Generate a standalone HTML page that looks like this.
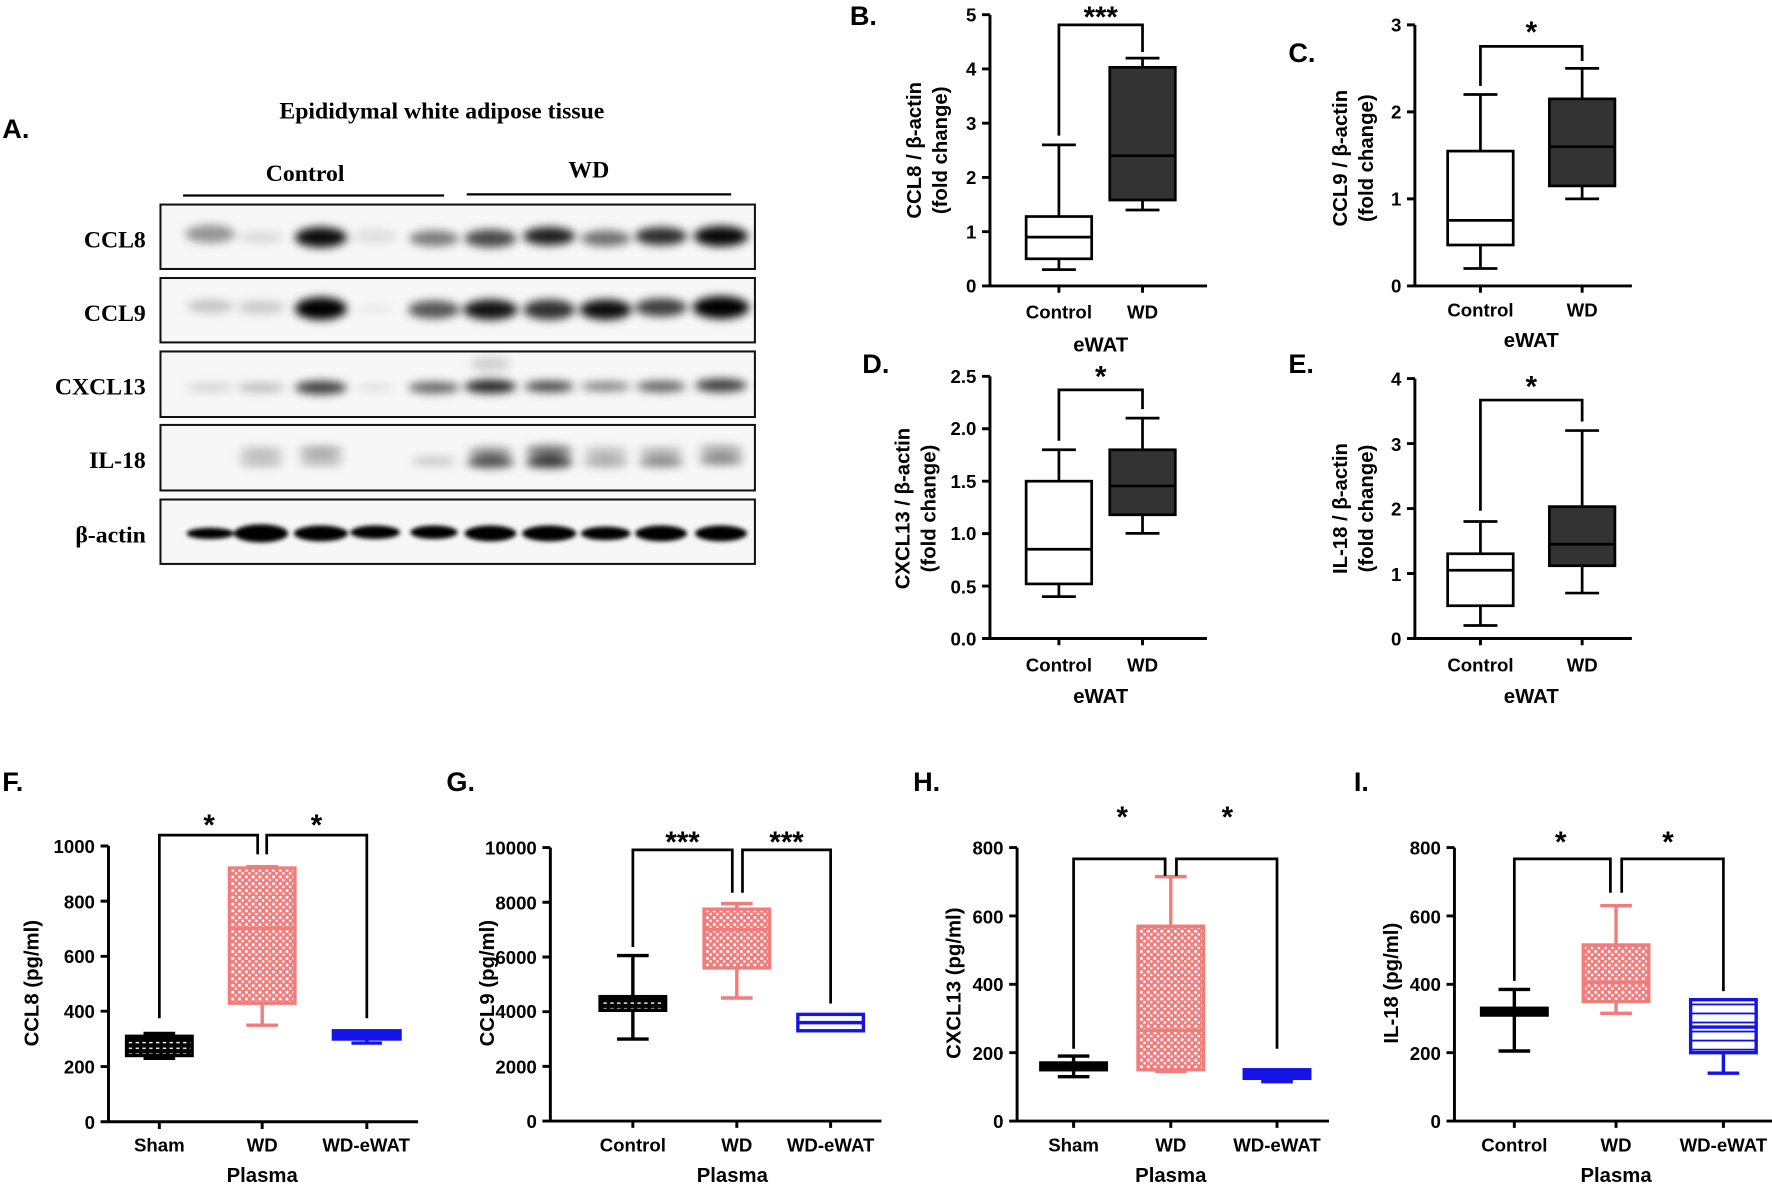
<!DOCTYPE html>
<html><head><meta charset="utf-8"><style>
html,body{margin:0;padding:0;background:#fff;}
svg{display:block;}
text{font-family:"Liberation Sans",Arial,sans-serif;font-weight:bold;fill:#000;}
.s{font-family:"Liberation Serif",serif;font-weight:bold;}
.ax{stroke:#000;stroke-width:2.6;fill:none;}
.bk{stroke:#000;stroke-width:2.4;fill:none;}
.tl{font-size:16.5px;text-anchor:end;}
.cl{font-size:16.5px;text-anchor:middle;}
.at{font-size:18px;text-anchor:middle;}
.pl{font-size:24px;}
.st{font-size:26px;text-anchor:middle;}
</style></head><body>
<svg width="1772" height="1190" viewBox="0 0 1568 1053" xmlns="http://www.w3.org/2000/svg">
<defs>
<filter id="bl" x="-50%" y="-100%" width="200%" height="300%"><feGaussianBlur stdDeviation="4"/></filter>
<filter id="bl2" x="-50%" y="-100%" width="200%" height="300%"><feGaussianBlur stdDeviation="2"/></filter>
<pattern id="chk" width="6" height="6" patternUnits="userSpaceOnUse"><rect width="6" height="6" fill="#f07c7c"/><rect x="0.8" y="0.8" width="2.4" height="2.4" fill="#fff"/><rect x="3.8" y="3.8" width="2" height="2" fill="#fff"/></pattern>
<pattern id="blk" width="6" height="5" patternUnits="userSpaceOnUse"><rect width="6" height="5" fill="#000"/><rect x="0" y="2" width="3" height="1.2" fill="#fff"/></pattern>
<pattern id="hl" width="6" height="8" patternUnits="userSpaceOnUse"><rect width="6" height="8" fill="#fff"/><rect y="0" width="6" height="1.6" fill="#1010e0"/></pattern>
</defs>
<rect width="1568" height="1053" fill="#fff"/>

<!-- Panel A -->
<text x="2" y="122" class="pl">A.</text>
<text x="391" y="105" class="s" font-size="21" text-anchor="middle">Epididymal white adipose tissue</text>
<text x="270" y="160" class="s" font-size="21" text-anchor="middle">Control</text>
<text x="521" y="157" class="s" font-size="21" text-anchor="middle">WD</text>
<line x1="162" y1="173" x2="393" y2="173" stroke="#000" stroke-width="2"/>
<line x1="413" y1="172" x2="647" y2="172" stroke="#000" stroke-width="2"/>
<g class="s" font-size="21" text-anchor="end">
<text x="129" y="219" class="s">CCL8</text>
<text x="129" y="284" class="s">CCL9</text>
<text x="129" y="349" class="s">CXCL13</text>
<text x="129" y="414" class="s">IL-18</text>
<text x="129" y="480" class="s">β-actin</text>
</g>
<g fill="#f7f7f7" stroke="#111" stroke-width="1.8">
<rect x="142" y="181" width="526" height="57"/>
<rect x="142" y="246" width="526" height="57"/>
<rect x="142" y="311" width="526" height="58"/>
<rect x="142" y="376" width="526" height="58"/>
<rect x="142" y="442" width="526" height="57"/>
</g>
<g filter="url(#bl)" fill="#000">
<ellipse cx="186" cy="207" rx="22" ry="8" opacity=".4"/>
<ellipse cx="231" cy="210" rx="20" ry="5" opacity=".12"/>
<ellipse cx="284" cy="210" rx="23" ry="9" opacity=".95"/>
<ellipse cx="332" cy="209" rx="20" ry="6" opacity=".1"/>
<ellipse cx="384" cy="211" rx="22" ry="7" opacity=".5"/>
<ellipse cx="434" cy="211" rx="23" ry="8" opacity=".7"/>
<ellipse cx="486" cy="209" rx="23" ry="8" opacity=".88"/>
<ellipse cx="536" cy="211" rx="22" ry="7" opacity=".55"/>
<ellipse cx="585" cy="209" rx="23" ry="8" opacity=".82"/>
<ellipse cx="638" cy="209" rx="24" ry="9" opacity=".97"/>
<ellipse cx="186" cy="271" rx="21" ry="6" opacity=".2"/>
<ellipse cx="231" cy="272" rx="21" ry="6" opacity=".18"/>
<ellipse cx="284" cy="273" rx="23" ry="10" opacity="1"/>
<ellipse cx="332" cy="273" rx="18" ry="4" opacity=".05"/>
<ellipse cx="384" cy="274" rx="23" ry="8" opacity=".65"/>
<ellipse cx="434" cy="274" rx="24" ry="9" opacity=".92"/>
<ellipse cx="486" cy="274" rx="23" ry="9" opacity=".8"/>
<ellipse cx="536" cy="274" rx="23" ry="9" opacity=".95"/>
<ellipse cx="585" cy="272" rx="23" ry="8" opacity=".75"/>
<ellipse cx="638" cy="272" rx="25" ry="10" opacity="1"/>
<ellipse cx="186" cy="343" rx="21" ry="4" opacity=".15"/>
<ellipse cx="231" cy="343" rx="21" ry="4" opacity=".25"/>
<ellipse cx="284" cy="343" rx="23" ry="6" opacity=".75"/>
<ellipse cx="332" cy="343" rx="18" ry="3" opacity=".1"/>
<ellipse cx="384" cy="343" rx="23" ry="5" opacity=".6"/>
<ellipse cx="434" cy="342" rx="23" ry="6" opacity=".85"/>
<ellipse cx="486" cy="342" rx="22" ry="5" opacity=".7"/>
<ellipse cx="536" cy="342" rx="22" ry="4" opacity=".5"/>
<ellipse cx="585" cy="342" rx="22" ry="5" opacity=".6"/>
<ellipse cx="638" cy="341" rx="23" ry="6" opacity=".75"/>
<ellipse cx="434" cy="322" rx="18" ry="7" opacity=".15"/>
<ellipse cx="231" cy="400" rx="20" ry="4" opacity=".25"/>
<ellipse cx="231" cy="409" rx="20" ry="4" opacity=".25"/>
<ellipse cx="284" cy="399" rx="20" ry="4" opacity=".35"/>
<ellipse cx="284" cy="408" rx="20" ry="4" opacity=".28"/>
<ellipse cx="384" cy="408" rx="20" ry="4" opacity=".2"/>
<ellipse cx="434" cy="400" rx="20" ry="4" opacity=".45"/>
<ellipse cx="434" cy="409" rx="21" ry="5" opacity=".7"/>
<ellipse cx="486" cy="399" rx="21" ry="5" opacity=".55"/>
<ellipse cx="486" cy="409" rx="21" ry="5" opacity=".8"/>
<ellipse cx="536" cy="400" rx="20" ry="4" opacity=".25"/>
<ellipse cx="536" cy="409" rx="20" ry="4" opacity=".35"/>
<ellipse cx="585" cy="400" rx="20" ry="4" opacity=".3"/>
<ellipse cx="585" cy="409" rx="20" ry="4" opacity=".5"/>
<ellipse cx="638" cy="398" rx="20" ry="4" opacity=".35"/>
<ellipse cx="638" cy="407" rx="20" ry="4" opacity=".5"/>
</g>
<g filter="url(#bl2)" fill="#000">
<ellipse cx="186" cy="472" rx="21" ry="5"/>
<ellipse cx="231" cy="472" rx="24" ry="8"/>
<ellipse cx="284" cy="472" rx="24" ry="7"/>
<ellipse cx="332" cy="471" rx="22" ry="6"/>
<ellipse cx="384" cy="471" rx="21" ry="6"/>
<ellipse cx="434" cy="472" rx="23" ry="7"/>
<ellipse cx="486" cy="472" rx="24" ry="7"/>
<ellipse cx="536" cy="472" rx="22" ry="6"/>
<ellipse cx="585" cy="472" rx="23" ry="7"/>
<ellipse cx="638" cy="472" rx="23" ry="7"/>
</g>

<!-- Panel B -->
<text x="752" y="22" class="pl">B.</text>
<path class="ax" d="M876 13V253H1068M869 13H876M869 61H876M869 109H876M869 157H876M869 205H876M869 253H876M937 253V259M1011 253V259"/>
<g class="tl"><text x="864" y="19">5</text><text x="864" y="67">4</text><text x="864" y="115">3</text><text x="864" y="163">2</text><text x="864" y="211">1</text><text x="864" y="259">0</text></g>
<text transform="translate(815,133) rotate(-90)" class="at" font-size="17">CCL8 / β-actin</text>
<text transform="translate(838,133) rotate(-90)" class="at" font-size="17">(fold change)</text>
<g class="bk"><path d="M937 238.6V229M937 191.6V128.2M922 238.6H952M922 128.2H952"/><rect x="908" y="191.6" width="58" height="37.4" fill="#fff"/><path d="M908 209.8H966"/></g>
<g class="bk"><path d="M1011 185.8V177M1011 59.6V51.4M996 185.8H1026M996 51.4H1026"/><rect x="982" y="59.6" width="58" height="117.4" fill="#333"/><path d="M982 137.8H1040"/></g>
<path class="bk" d="M937 120V22H1011V46"/>
<text x="974" y="24" class="st">***</text>
<text x="937" y="282" class="cl">Control</text><text x="1011" y="282" class="cl">WD</text>
<text x="974" y="311" class="at">eWAT</text>

<!-- Panel C -->
<text x="1140" y="55" class="pl">C.</text>
<path class="ax" d="M1252 22V253H1444M1245 22H1252M1245 99H1252M1245 176H1252M1245 253H1252M1310 253V259M1400 253V259"/>
<g class="tl"><text x="1240" y="28">3</text><text x="1240" y="105">2</text><text x="1240" y="182">1</text><text x="1240" y="259">0</text></g>
<text transform="translate(1192,140) rotate(-90)" class="at" font-size="17">CCL9 / β-actin</text>
<text transform="translate(1215,140) rotate(-90)" class="at" font-size="17">(fold change)</text>
<g class="bk"><path d="M1310 237.6V216.8M1310 133.7V83.6M1295 237.6H1325M1295 83.6H1325"/><rect x="1281" y="133.7" width="58" height="83.1" fill="#fff"/><path d="M1281 195H1339"/></g>
<g class="bk"><path d="M1400 176V164.5M1400 87.5V60.5M1385 176H1415M1385 60.5H1415"/><rect x="1371" y="87.5" width="58" height="77" fill="#333"/><path d="M1371 129.8H1429"/></g>
<path class="bk" d="M1310 76V41H1400V54"/>
<text x="1355" y="37" class="st">*</text>
<text x="1310" y="280" class="cl">Control</text><text x="1400" y="280" class="cl">WD</text>
<text x="1355" y="307" class="at">eWAT</text>

<!-- Panel D -->
<text x="763" y="330" class="pl">D.</text>
<path class="ax" d="M876 333V565H1068M869 333H876M869 379.4H876M869 425.8H876M869 472.2H876M869 518.6H876M869 565H876M937 565V571M1011 565V571"/>
<g class="tl"><text x="864" y="339">2.5</text><text x="864" y="385">2.0</text><text x="864" y="432">1.5</text><text x="864" y="478">1.0</text><text x="864" y="525">0.5</text><text x="864" y="571">0.0</text></g>
<text transform="translate(805,450) rotate(-90)" class="at" font-size="17">CXCL13 / β-actin</text>
<text transform="translate(828,450) rotate(-90)" class="at" font-size="17">(fold change)</text>
<g class="bk"><path d="M937 527.9V516.7M937 425.8V398M922 527.9H952M922 398H952"/><rect x="908" y="425.8" width="58" height="90.9" fill="#fff"/><path d="M908 486H966"/></g>
<g class="bk"><path d="M1011 472V455.5M1011 398V370M996 472H1026M996 370H1026"/><rect x="982" y="398" width="58" height="57.5" fill="#333"/><path d="M982 430H1040"/></g>
<path class="bk" d="M937 390V345H1011V362"/>
<text x="974" y="342" class="st">*</text>
<text x="937" y="594" class="cl">Control</text><text x="1011" y="594" class="cl">WD</text>
<text x="974" y="622" class="at">eWAT</text>

<!-- Panel E -->
<text x="1140" y="330" class="pl">E.</text>
<path class="ax" d="M1252 335V565H1444M1245 335H1252M1245 392.5H1252M1245 450H1252M1245 507.5H1252M1245 565H1252M1310 565V571M1400 565V571"/>
<g class="tl"><text x="1240" y="341">4</text><text x="1240" y="399">3</text><text x="1240" y="456">2</text><text x="1240" y="514">1</text><text x="1240" y="571">0</text></g>
<text transform="translate(1192,450) rotate(-90)" class="at" font-size="17">IL-18 / β-actin</text>
<text transform="translate(1215,450) rotate(-90)" class="at" font-size="17">(fold change)</text>
<g class="bk"><path d="M1310 553.5V536M1310 490V461.5M1295 553.5H1325M1295 461.5H1325"/><rect x="1281" y="490" width="58" height="46" fill="#fff"/><path d="M1281 504.6H1339"/></g>
<g class="bk"><path d="M1400 524.8V500.6M1400 448.3V381M1385 524.8H1415M1385 381H1415"/><rect x="1371" y="448.3" width="58" height="52.3" fill="#333"/><path d="M1371 481.6H1429"/></g>
<path class="bk" d="M1310 452V354H1400V373"/>
<text x="1355" y="351" class="st">*</text>
<text x="1310" y="594" class="cl">Control</text><text x="1400" y="594" class="cl">WD</text>
<text x="1355" y="622" class="at">eWAT</text>

<!-- Panel F -->
<text x="2" y="700" class="pl">F.</text>
<path class="ax" d="M96 748.6V992.6H370M89 748.6H96M89 797.4H96M89 846.2H96M89 894.8H96M89 943.8H96M89 992.6H96M141 992.6V999M232 992.6V999M324.6 992.6V999"/>
<g class="tl"><text x="84" y="755">1000</text><text x="84" y="804">800</text><text x="84" y="852">600</text><text x="84" y="901">400</text><text x="84" y="950">200</text><text x="84" y="999">0</text></g>
<text transform="translate(34,870) rotate(-90)" class="at">CCL8 (pg/ml)</text>
<g stroke="#000" stroke-width="3" fill="none"><path d="M141 936.5V934M141 917V914.5M127 936.5H155M127 914.5H155"/><rect x="112" y="917" width="58" height="17" fill="url(#blk)"/></g>
<g stroke="#f07c7c" stroke-width="3" fill="none"><path d="M232 907.2V887.7M232 768.1V766.9M218 907.2H246M218 766.9H246"/><rect x="203" y="768.1" width="58" height="119.6" fill="url(#chk)"/><path d="M203 821.8H261"/></g>
<g stroke="#1414e6" stroke-width="3" fill="none"><path d="M324.6 923V919.4M311 923H338"/><rect x="295" y="912.1" width="59" height="7.3" fill="#1414e6"/></g>
<path class="bk" d="M141 901V739H228V756M236 756V739H324.6V901"/>
<text x="185" y="739" class="st">*</text><text x="280" y="739" class="st">*</text>
<text x="141" y="1019" class="cl">Sham</text><text x="232" y="1019" class="cl">WD</text><text x="324" y="1019" class="cl">WD-eWAT</text>
<text x="232" y="1046" class="at">Plasma</text>

<!-- Panel G -->
<text x="395" y="700" class="pl">G.</text>
<path class="ax" d="M487 750V992H780M480 750H487M480 798.4H487M480 846.8H487M480 895.2H487M480 943.6H487M480 992H487M560 992V998M652 992V998M735 992V998"/>
<g class="tl"><text x="475" y="756">10000</text><text x="475" y="805">8000</text><text x="475" y="853">6000</text><text x="475" y="901">4000</text><text x="475" y="950">2000</text><text x="475" y="998">0</text></g>
<text transform="translate(437,870) rotate(-90)" class="at">CCL9 (pg/ml)</text>
<g stroke="#000" stroke-width="3" fill="none"><path d="M560 919.4V894M560 881.9V845.6M546 919.4H574M546 845.6H574"/><rect x="531" y="881.9" width="58" height="12.1" fill="url(#blk)"/></g>
<g stroke="#f07c7c" stroke-width="3" fill="none"><path d="M652 883.1V856.5M652 804.5V799.6M638 883.1H666M638 799.6H666"/><rect x="623" y="804.5" width="58" height="52" fill="url(#chk)"/><path d="M623 822.6H681"/></g>
<g stroke="#1414e6" stroke-width="3" fill="none"><rect x="706" y="897.6" width="58" height="14.5" fill="#fff"/><path d="M706 904.9H764"/></g>
<path class="bk" d="M560 838V752H648V790M657 790V752H735V888"/>
<text x="604" y="754" class="st">***</text><text x="696" y="754" class="st">***</text>
<text x="560" y="1019" class="cl">Control</text><text x="652" y="1019" class="cl">WD</text><text x="735" y="1019" class="cl">WD-eWAT</text>
<text x="648" y="1046" class="at">Plasma</text>

<!-- Panel H -->
<text x="808" y="700" class="pl">H.</text>
<path class="ax" d="M900 750V992H1176M893 750H900M893 810.5H900M893 871H900M893 931.5H900M893 992H900M950 992V998M1036 992V998M1130 992V998"/>
<g class="tl"><text x="888" y="756">800</text><text x="888" y="817">600</text><text x="888" y="877">400</text><text x="888" y="938">200</text><text x="888" y="998">0</text></g>
<text transform="translate(850,870) rotate(-90)" class="at">CXCL13 (pg/ml)</text>
<g stroke="#000" stroke-width="3" fill="none"><path d="M950 952.7V946.6M950 940.6V934.5M936 952.7H964M936 934.5H964"/><rect x="921" y="940.6" width="58" height="6" fill="#000"/></g>
<g stroke="#f07c7c" stroke-width="3" fill="none"><path d="M1036 948.1V946.6M1036 819.6V775.7M1022 948.1H1050M1022 775.7H1050"/><rect x="1007" y="819.6" width="58" height="127" fill="url(#chk)"/><path d="M1007 911.8H1065"/></g>
<g stroke="#1414e6" stroke-width="3" fill="none"><path d="M1130 957.2V954.2M1116 957.2H1144"/><rect x="1101" y="946.6" width="58" height="7.6" fill="#1414e6"/></g>
<path class="bk" d="M950 928V760H1031V775M1041 775V760H1130V928"/>
<text x="993" y="732" class="st">*</text><text x="1086" y="732" class="st">*</text>
<text x="950" y="1019" class="cl">Sham</text><text x="1036" y="1019" class="cl">WD</text><text x="1130" y="1019" class="cl">WD-eWAT</text>
<text x="1036" y="1046" class="at">Plasma</text>

<!-- Panel I -->
<text x="1198" y="700" class="pl">I.</text>
<path class="ax" d="M1287 750V992H1568M1280 750H1287M1280 810.5H1287M1280 871H1287M1280 931.5H1287M1280 992H1287M1340 992V998M1430 992V998M1525 992V998"/>
<g class="tl"><text x="1275" y="756">800</text><text x="1275" y="817">600</text><text x="1275" y="877">400</text><text x="1275" y="938">200</text><text x="1275" y="998">0</text></g>
<text transform="translate(1237,870) rotate(-90)" class="at">IL-18 (pg/ml)</text>
<g stroke="#000" stroke-width="3" fill="none"><path d="M1340 930V898.2M1340 892.2V875.5M1326 930H1354M1326 875.5H1354"/><rect x="1311" y="892.2" width="58" height="6" fill="#000"/></g>
<g stroke="#f07c7c" stroke-width="3" fill="none"><path d="M1430 896.7V886.1M1430 836.2V801.4M1416 896.7H1444M1416 801.4H1444"/><rect x="1401" y="836.2" width="58" height="49.9" fill="url(#chk)"/><path d="M1401 869.5H1459"/></g>
<g stroke="#1414e6" stroke-width="3" fill="none"><path d="M1525 949.6V931.5M1525 884.6V883.1M1511 949.6H1539"/><rect x="1496" y="884.6" width="58" height="46.9" fill="url(#hl)"/><path d="M1496 908.8H1554"/></g>
<path class="bk" d="M1340 868V760H1425V790M1435 790V760H1525V877"/>
<text x="1381" y="754" class="st">*</text><text x="1476" y="754" class="st">*</text>
<text x="1340" y="1019" class="cl">Control</text><text x="1430" y="1019" class="cl">WD</text><text x="1525" y="1019" class="cl">WD-eWAT</text>
<text x="1430" y="1046" class="at">Plasma</text>
</svg>
</body></html>
